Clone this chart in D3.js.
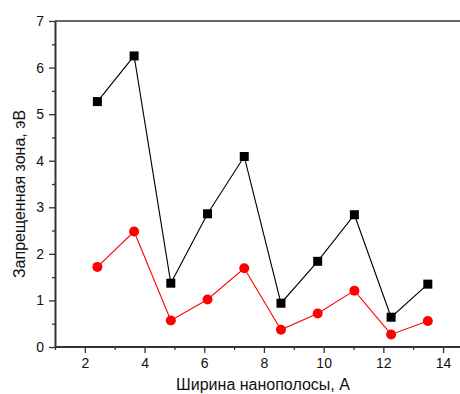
<!DOCTYPE html>
<html>
<head>
<meta charset="utf-8">
<script src="https://cdn.jsdelivr.net/npm/d3@7"></script>
<style>
  body { margin: 0; background: #fff; }
  svg { display: block; font-family: "Liberation Sans", Arial, sans-serif; }
</style>
</head>
<body>
<div id="chart"></div>
<script>
var widths = [2.42, 3.65, 4.88, 6.11, 7.34, 8.57, 9.80, 11.03, 12.26, 13.49];
var gapBlack = [5.27, 6.25, 1.37, 2.86, 4.09, 0.94, 1.84, 2.84, 0.64, 1.35];
var gapRed = [1.72, 2.48, 0.57, 1.02, 1.69, 0.37, 0.72, 1.21, 0.27, 0.56];
var xTicks = [2, 4, 6, 8, 10, 12, 14];
var yTicks = [0, 1, 2, 3, 4, 5, 6, 7];

var w = 460, h = 394,
    mLeft = 55, mTop = 21, mBottom = 347;

var x = d3.scaleLinear().domain([1, 15]).range([mLeft, mLeft + 14 * 29.85]);
var y = d3.scaleLinear().domain([0, 7]).range([mBottom, mTop]);

var svg = d3.select('#chart').append('svg')
    .attr('width', w)
    .attr('height', h);

// frame top line
svg.append('line')
    .attr('x1', mLeft).attr('y1', mTop)
    .attr('x2', w).attr('y2', mTop)
    .style('stroke', '#333').style('stroke-width', 1.5);

// minor ticks
var xMinor = d3.range(1, 16, 2);
var yMinor = d3.range(0.5, 7, 1);

svg.append('g')
    .attr('transform', 'translate(0,' + mBottom + ')')
    .call(d3.axisBottom(x).tickValues(xMinor).tickSize(3).tickFormat(''))
    .call(function(g){ g.select('.domain').remove(); })
    .selectAll('line').style('stroke', '#333').style('stroke-width', 1.3);

svg.append('g')
    .attr('transform', 'translate(' + mLeft + ',0)')
    .call(d3.axisLeft(y).tickValues(yMinor).tickSize(3).tickFormat(''))
    .call(function(g){ g.select('.domain').remove(); })
    .selectAll('line').style('stroke', '#333').style('stroke-width', 1.3);

// main axes
var xAxis = svg.append('g')
    .attr('transform', 'translate(0,' + mBottom + ')')
    .call(d3.axisBottom(x).tickValues(xTicks).tickFormat(d3.format('d'))
      .tickSize(6).tickSizeOuter(0).tickPadding(5));
xAxis.select('.domain').attr('d', 'M' + mLeft + ',0H' + w);

var yAxis = svg.append('g')
    .attr('transform', 'translate(' + mLeft + ',0)')
    .call(d3.axisLeft(y).tickValues(yTicks).tickFormat(d3.format('d'))
      .tickSize(6).tickSizeOuter(0).tickPadding(5));

[xAxis, yAxis].forEach(function(g){
  g.select('.domain').style('stroke', '#333').style('stroke-width', 2);
  g.selectAll('.tick line').style('stroke', '#333').style('stroke-width', 1.3);
  g.selectAll('.tick text').style('font-size', '14px').style('fill', '#111')
    .style('font-family', '"Liberation Sans", Arial, sans-serif');
});

// series
function drawSeries(vals, color, shape) {
  var pts = widths.map(function(d, i){ return [d, vals[i]]; });
  svg.append('path')
      .datum(pts)
      .attr('d', d3.line().x(function(d){ return x(d[0]); }).y(function(d){ return y(d[1]); }))
      .style('fill', 'none')
      .style('stroke', color)
      .style('stroke-width', 1.1);

  var g = svg.append('g');
  if (shape === 'square') {
    g.selectAll('rect').data(pts).enter()
        .append('rect')
        .attr('x', function(d){ return x(d[0]) - 4.5; })
        .attr('y', function(d){ return y(d[1]) - 4.5; })
        .attr('width', 9).attr('height', 9)
        .style('fill', color);
  } else {
    g.selectAll('circle').data(pts).enter()
        .append('circle')
        .attr('cx', function(d){ return x(d[0]); })
        .attr('cy', function(d){ return y(d[1]); })
        .attr('r', 5)
        .style('fill', color);
  }
}

drawSeries(gapBlack, '#000', 'square');
drawSeries(gapRed, '#ff0000', 'circle');

// axis titles
svg.append('text')
    .text('Ширина нанополосы, А')
    .attr('x', 263)
    .attr('y', 390)
    .attr('text-anchor', 'middle')
    .style('font-size', '16px')
    .style('fill', '#111');

svg.append('text')
    .text('Запрещенная зона, эВ')
    .attr('transform', 'translate(25,194) rotate(-90)')
    .attr('text-anchor', 'middle')
    .style('font-size', '16px')
    .style('fill', '#111');
</script>
</body>
</html>
